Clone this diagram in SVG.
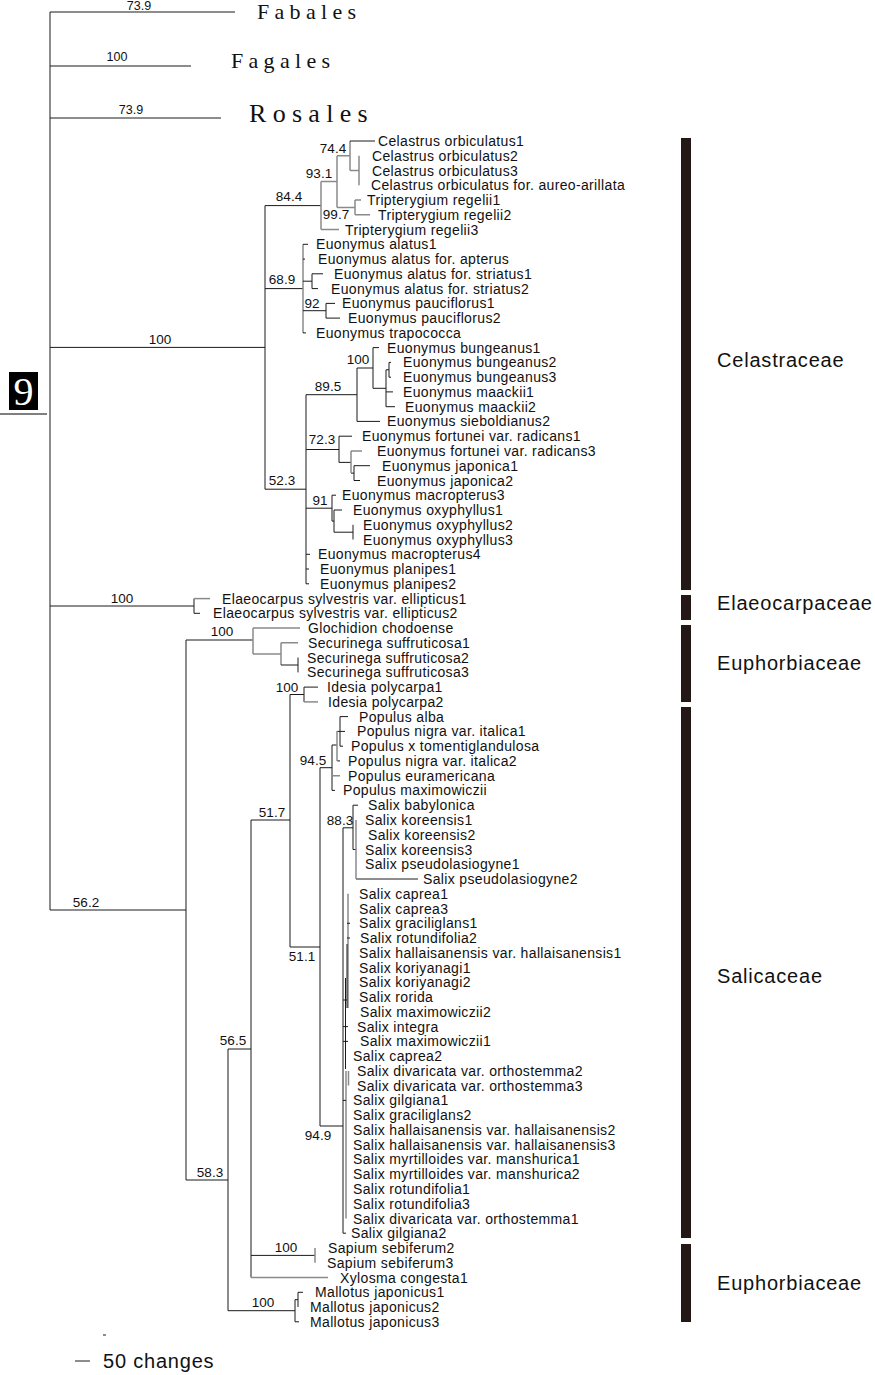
<svg xmlns="http://www.w3.org/2000/svg" width="875" height="1375" viewBox="0 0 875 1375">
<style>
.t{font-family:"Liberation Sans",Arial,sans-serif;font-size:14px;letter-spacing:0.35px;fill:#111}
.s{font-family:"Liberation Sans",Arial,sans-serif;font-size:13.5px;fill:#111;text-anchor:middle}
.s2{font-family:"Liberation Sans",Arial,sans-serif;font-size:12.5px;fill:#111;text-anchor:middle}
.o{font-family:"Liberation Serif","Times New Roman",serif;fill:#111}
.f{font-family:"Liberation Sans",Arial,sans-serif;font-size:20px;letter-spacing:0.8px;fill:#111}
.k{stroke:#1a1a1a;stroke-width:1;fill:none}
.g{stroke:#8a8a8a;stroke-width:1.5;fill:none}
.bar{fill:#231815}
</style>
<rect width="875" height="1375" fill="#fff"/>
<g id="connectors">
<path class="k" d="M50 12V910M50 12H235M50 66H191M50 118H221M50 347.4H265M50 606H194M50 910H186"/>
<path class="k" d="M265 205.6V489.2M265 205.6H321M265 288.6H303M265 489.2H306"/>
<path class="g" d="M321 181.6V229.6M321 181.6H337M321 229.6H339M337 155.8V207.4M337 155.8H350M350 141V170.5M350 170.5H359M359 155.8V185.3M355 200V214.8M337 207.4H355M355 200H361M355 214.8H370"/>
<path class="k" d="M350 141H375"/>
<path class="g" d="M303 244.3V332.9"/>
<path class="k" d="M303 244.3H308M303 259.1H305M303 281.2H312M303 310.7H326M303 332.9H306M312 273.8V288.6M312 273.8H323M312 288.6H318M326 303.4V318.1M326 303.4H335M326 318.1H340"/>
<path class="k" d="M306 394.7V583.8M306 394.7H357M306 449.5H339M306 508.2H332M306 554.3H310M306 569H309M306 583.8H309"/>
<path class="k" d="M357 368V421.4M357 368H373M357 421.4H380M373 347.6V388.3M373 347.6H379M373 388.3H386M386 369.8V406.7M386 369.8H389M386 391.9H393M386 406.7H395M389 362.4V377.2M389 362.4H391M389 377.2H391"/>
<path class="k" d="M339 436.2V462.4M339 436.2H352M339 462.4H351M351 473.1H354M354 465.7V480.5M354 465.7H370M354 480.5H360"/>
<path class="g" d="M351 451V473.1M351 451H362"/>
<path class="k" d="M332 495.2V521.1M332 495.2H336M332 521.1H334M334 510V532.2M334 510H342M334 532.2H353M353 524.8V539.5"/>
<path class="k" d="M194 598.6V613.3M194 613.3H200"/>
<path class="g" d="M194 598.6H210"/>
<path class="k" d="M186 640V1180M186 640H253M186 1180H228"/>
<path class="g" d="M253 628.1V653.9M253 628.1H300M253 653.9H281M281 642.8V665M281 642.8H298"/>
<path class="k" d="M281 665H298M298 657.6V672.4"/>
<path class="k" d="M228 1049V1310.7M228 1049H251M228 1310.7H295M251 820V1277.5M251 820H290M251 1255.4H315"/>
<path class="g" d="M251 1277.5H328M315 1248V1262.8"/>
<path class="k" d="M295 1299.7V1321.8M295 1321.8H299M295 1299.7H298M298 1292.3V1307M298 1292.3H303"/>
<path class="k" d="M290 694.5V947M290 694.5H304M290 947H320M304 687.1V701.9M304 687.1H318"/>
<path class="g" d="M304 701.9H318"/>
<path class="k" d="M320 767.7V1126M320 767.7H332M320 1126H343M332 745V790.4M332 745H337M332 790.4H335M337 731.4H345M337 760.9H340M340 716.6V746.2M340 716.6H348M340 746.2H343"/>
<path class="g" d="M332 775.7H340M337 731V761"/>
<path class="k" d="M343 827.8V1233.2M343 827.8H353M343 1233.2H346M353 805.2V849.5M353 805.2H358M353 849.5H356M356 879H418"/>
<path class="g" d="M356 820V879"/>
<path class="g" d="M348 893.8V1008M346 1071V1218.5M348.5 1070.9V1085.6"/>
<path class="k" d="M347 944V1008M345.5 978V1069M347 923.3H350M347 938H350M343 1026.6H348M343 1041.4H348M343 1100.4H346M343 1000H347"/>
</g>
<g id="support">
<text class="s2" x="139" y="9.5">73.9</text>
<text class="s2" x="117" y="61">100</text>
<text class="s2" x="131" y="114">73.9</text>
<text class="s" x="333" y="153">74.4</text>
<text class="s" x="319" y="178">93.1</text>
<text class="s" x="289" y="201">84.4</text>
<text class="s" x="336" y="219">99.7</text>
<text class="s" x="282" y="284">68.9</text>
<text class="s" x="312" y="308">92</text>
<text class="s" x="160" y="344">100</text>
<text class="s" x="358" y="364">100</text>
<text class="s" x="328" y="391">89.5</text>
<text class="s" x="322" y="444">72.3</text>
<text class="s" x="282" y="485">52.3</text>
<text class="s" x="320" y="505">91</text>
<text class="s" x="122" y="603">100</text>
<text class="s" x="222" y="636">100</text>
<text class="s" x="287" y="692">100</text>
<text class="s" x="313" y="765">94.5</text>
<text class="s" x="272" y="817">51.7</text>
<text class="s" x="340" y="825">88.3</text>
<text class="s" x="86" y="907">56.2</text>
<text class="s" x="302" y="961">51.1</text>
<text class="s" x="233" y="1045">56.5</text>
<text class="s" x="318" y="1140">94.9</text>
<text class="s" x="210" y="1177">58.3</text>
<text class="s" x="286" y="1252">100</text>
<text class="s" x="263" y="1307">100</text>
</g>
<g id="orders">
<text class="o" x="257" y="19" font-size="22" letter-spacing="5.3">Fabales</text>
<text class="o" x="231" y="68" font-size="22" letter-spacing="5.3">Fagales</text>
<text class="o" x="249" y="122" font-size="26" letter-spacing="6.3">Rosales</text>
</g>
<g id="leaves">
<g id="n0"><text class="t" x="378" y="146">Celastrus orbiculatus1</text></g>
<g id="n1"><text class="t" x="372" y="160.8">Celastrus orbiculatus2</text></g>
<g id="n2"><text class="t" x="372" y="175.5">Celastrus orbiculatus3</text></g>
<g id="n3"><text class="t" x="371" y="190.3">Celastrus orbiculatus for. aureo-arillata</text></g>
<g id="n4"><text class="t" x="367" y="205">Tripterygium regelii1</text></g>
<g id="n5"><text class="t" x="378" y="219.8">Tripterygium regelii2</text></g>
<g id="n6"><text class="t" x="345" y="234.6">Tripterygium regelii3</text></g>
<g id="n7"><text class="t" x="316" y="249.3">Euonymus alatus1</text></g>
<g id="n8"><text class="t" x="318" y="264.1">Euonymus alatus for. apterus</text></g>
<g id="n9"><text class="t" x="334" y="278.8">Euonymus alatus for. striatus1</text></g>
<g id="n10"><text class="t" x="331" y="293.6">Euonymus alatus for. striatus2</text></g>
<g id="n11"><text class="t" x="342" y="308.4">Euonymus pauciflorus1</text></g>
<g id="n12"><text class="t" x="348" y="323.1">Euonymus pauciflorus2</text></g>
<g id="n13"><text class="t" x="316" y="337.9">Euonymus trapococca</text></g>
<g id="n14"><text class="t" x="387" y="352.6">Euonymus bungeanus1</text></g>
<g id="n15"><text class="t" x="403" y="367.4">Euonymus bungeanus2</text></g>
<g id="n16"><text class="t" x="403" y="382.2">Euonymus bungeanus3</text></g>
<g id="n17"><text class="t" x="403" y="396.9">Euonymus maackii1</text></g>
<g id="n18"><text class="t" x="405" y="411.7">Euonymus maackii2</text></g>
<g id="n19"><text class="t" x="387" y="426.4">Euonymus sieboldianus2</text></g>
<g id="n20"><text class="t" x="362" y="441.2">Euonymus fortunei var. radicans1</text></g>
<g id="n21"><text class="t" x="377" y="456">Euonymus fortunei var. radicans3</text></g>
<g id="n22"><text class="t" x="382" y="470.7">Euonymus japonica1</text></g>
<g id="n23"><text class="t" x="377" y="485.5">Euonymus japonica2</text></g>
<g id="n24"><text class="t" x="342" y="500.2">Euonymus macropterus3</text></g>
<g id="n25"><text class="t" x="353" y="515">Euonymus oxyphyllus1</text></g>
<g id="n26"><text class="t" x="363" y="529.8">Euonymus oxyphyllus2</text></g>
<g id="n27"><text class="t" x="363" y="544.5">Euonymus oxyphyllus3</text></g>
<g id="n28"><text class="t" x="318" y="559.3">Euonymus macropterus4</text></g>
<g id="n29"><text class="t" x="320" y="574">Euonymus planipes1</text></g>
<g id="n30"><text class="t" x="320" y="588.8">Euonymus planipes2</text></g>
<g id="n31"><text class="t" x="222" y="603.6">Elaeocarpus sylvestris var. ellipticus1</text></g>
<g id="n32"><text class="t" x="213" y="618.3">Elaeocarpus sylvestris var. ellipticus2</text></g>
<g id="n33"><text class="t" x="308" y="633.1">Glochidion chodoense</text></g>
<g id="n34"><text class="t" x="308" y="647.8">Securinega suffruticosa1</text></g>
<g id="n35"><text class="t" x="307" y="662.6">Securinega suffruticosa2</text></g>
<g id="n36"><text class="t" x="307" y="677.4">Securinega suffruticosa3</text></g>
<g id="n37"><text class="t" x="327" y="692.1">Idesia polycarpa1</text></g>
<g id="n38"><text class="t" x="328" y="706.9">Idesia polycarpa2</text></g>
<g id="n39"><text class="t" x="359" y="721.6">Populus alba</text></g>
<g id="n40"><text class="t" x="357" y="736.4">Populus nigra var. italica1</text></g>
<g id="n41"><text class="t" x="351" y="751.2">Populus x tomentiglandulosa</text></g>
<g id="n42"><text class="t" x="348" y="765.9">Populus nigra var. italica2</text></g>
<g id="n43"><text class="t" x="348" y="780.7">Populus euramericana</text></g>
<g id="n44"><text class="t" x="343" y="795.4">Populus maximowiczii</text></g>
<g id="n45"><text class="t" x="368" y="810.2">Salix babylonica</text></g>
<g id="n46"><text class="t" x="365" y="825">Salix koreensis1</text></g>
<g id="n47"><text class="t" x="368" y="839.7">Salix koreensis2</text></g>
<g id="n48"><text class="t" x="365" y="854.5">Salix koreensis3</text></g>
<g id="n49"><text class="t" x="365" y="869.2">Salix pseudolasiogyne1</text></g>
<g id="n50"><text class="t" x="423" y="884">Salix pseudolasiogyne2</text></g>
<g id="n51"><text class="t" x="359" y="898.8">Salix caprea1</text></g>
<g id="n52"><text class="t" x="359" y="913.5">Salix caprea3</text></g>
<g id="n53"><text class="t" x="359" y="928.3">Salix graciliglans1</text></g>
<g id="n54"><text class="t" x="360" y="943">Salix rotundifolia2</text></g>
<g id="n55"><text class="t" x="359" y="957.8">Salix hallaisanensis var. hallaisanensis1</text></g>
<g id="n56"><text class="t" x="359" y="972.6">Salix koriyanagi1</text></g>
<g id="n57"><text class="t" x="359" y="987.3">Salix koriyanagi2</text></g>
<g id="n58"><text class="t" x="359" y="1002.1">Salix rorida</text></g>
<g id="n59"><text class="t" x="360" y="1016.8">Salix maximowiczii2</text></g>
<g id="n60"><text class="t" x="357" y="1031.6">Salix integra</text></g>
<g id="n61"><text class="t" x="360" y="1046.4">Salix maximowiczii1</text></g>
<g id="n62"><text class="t" x="353" y="1061.1">Salix caprea2</text></g>
<g id="n63"><text class="t" x="357" y="1075.9">Salix divaricata var. orthostemma2</text></g>
<g id="n64"><text class="t" x="357" y="1090.6">Salix divaricata var. orthostemma3</text></g>
<g id="n65"><text class="t" x="353" y="1105.4">Salix gilgiana1</text></g>
<g id="n66"><text class="t" x="353" y="1120.2">Salix graciliglans2</text></g>
<g id="n67"><text class="t" x="353" y="1134.9">Salix hallaisanensis var. hallaisanensis2</text></g>
<g id="n68"><text class="t" x="353" y="1149.7">Salix hallaisanensis var. hallaisanensis3</text></g>
<g id="n69"><text class="t" x="353" y="1164.4">Salix myrtilloides var. manshurica1</text></g>
<g id="n70"><text class="t" x="353" y="1179.2">Salix myrtilloides var. manshurica2</text></g>
<g id="n71"><text class="t" x="353" y="1194">Salix rotundifolia1</text></g>
<g id="n72"><text class="t" x="353" y="1208.7">Salix rotundifolia3</text></g>
<g id="n73"><text class="t" x="353" y="1223.5">Salix divaricata var. orthostemma1</text></g>
<g id="n74"><text class="t" x="351" y="1238.2">Salix gilgiana2</text></g>
<g id="n75"><text class="t" x="328" y="1253">Sapium sebiferum2</text></g>
<g id="n76"><text class="t" x="327" y="1267.8">Sapium sebiferum3</text></g>
<g id="n77"><text class="t" x="340" y="1282.5">Xylosma congesta1</text></g>
<g id="n78"><text class="t" x="315" y="1297.3">Mallotus japonicus1</text></g>
<g id="n79"><text class="t" x="310" y="1312">Mallotus japonicus2</text></g>
<g id="n80"><text class="t" x="310" y="1326.8">Mallotus japonicus3</text></g>
</g>
<g id="families">
<rect class="bar" x="681" y="138" width="10" height="452"/>
<rect class="bar" x="681" y="595" width="10" height="25"/>
<rect class="bar" x="681" y="625" width="10" height="77"/>
<rect class="bar" x="681" y="707" width="10" height="531"/>
<rect class="bar" x="681" y="1244" width="10" height="78"/>
<text class="f" x="717" y="367">Celastraceae</text>
<text class="f" x="717" y="610">Elaeocarpaceae</text>
<text class="f" x="717" y="670">Euphorbiaceae</text>
<text class="f" x="717" y="983">Salicaceae</text>
<text class="f" x="717" y="1290">Euphorbiaceae</text>
</g>
<g id="marker9">
<rect x="9" y="372" width="29" height="38" fill="#000"/>
<text x="23.5" y="405" font-family="Liberation Serif, serif" font-size="40" fill="#fff" text-anchor="middle">9</text>
<path d="M0 414H47" stroke="#555" stroke-width="1.5"/>
</g>
<g id="scale">
<path class="k" d="M103 1335H106M75 1361H90"/>
<text x="103" y="1368" font-family="Liberation Sans, Arial, sans-serif" font-size="20" letter-spacing="0.8" fill="#111">50 changes</text>
</g>
</svg>
